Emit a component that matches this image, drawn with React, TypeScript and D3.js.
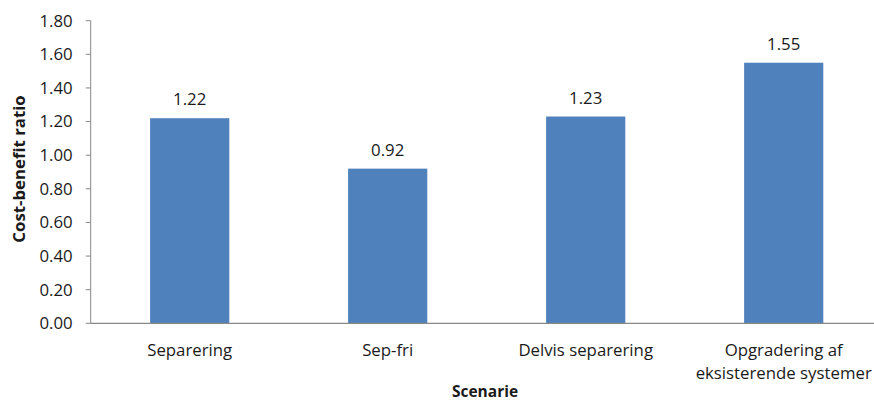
import React from "react";
import * as d3 from "d3";

const categories: string[][] = [
  ["Separering"],
  ["Sep-fri"],
  ["Delvis separering"],
  ["Opgradering af", "eksisterende systemer"],
];
const values: number[] = [1.22, 0.92, 1.23, 1.55];
const yTicks: number[] = [0, 0.2, 0.4, 0.6, 0.8, 1.0, 1.2, 1.4, 1.6, 1.8];
const yTitle = "Cost-benefit ratio";
const xTitle = "Scenarie";

const W = 874;
const H = 402;
const left = 90.7;
const top = 20.7;
const bottom = 323.3;
const bandW = 198;
const font = "'Open Sans', 'Noto Sans', sans-serif";
const textColor = "#1a1a1a";
const axisColor = "#888888";
const barColor = "#4F81BD";
const fs = 16.8;

export default function App() {
  const x = d3
    .scaleBand<number>()
    .domain(d3.range(categories.length))
    .range([left, left + bandW * categories.length])
    .paddingInner(0.6)
    .paddingOuter(0.3);
  const y = d3.scaleLinear().domain([0, 1.8]).range([bottom, top]);

  return (
    <svg
      width={W}
      height={H}
      style={{ position: "absolute", left: 0, top: 0, background: "#fff" }}
      fontFamily={font}
    >
      {/* y axis */}
      <line x1={left} x2={left} y1={top} y2={bottom} stroke={axisColor} strokeWidth={1} />
      {yTicks.map((t) => (
        <g key={t}>
          <line x1={left - 5} x2={left} y1={y(t)} y2={y(t)} stroke={axisColor} strokeWidth={1} />
          <text
            x={left - 18}
            y={y(t)}
            dy="0.35em"
            textAnchor="end"
            fontSize={fs}
            fill={textColor}
          >
            {t.toFixed(2)}
          </text>
        </g>
      ))}
      {/* bars */}
      {values.map((v, i) => (
        <g key={i}>
          <rect
            x={x(i)!}
            y={y(v)}
            width={x.bandwidth()}
            height={bottom - y(v)}
            fill={barColor}
          />
          <text
            x={x(i)! + x.bandwidth() / 2}
            y={y(v) - 13}
            textAnchor="middle"
            fontSize={fs}
            fill={textColor}
          >
            {v.toFixed(2)}
          </text>
        </g>
      ))}
      {/* x axis */}
      <line x1={left} x2={W} y1={bottom} y2={bottom} stroke={axisColor} strokeWidth={1.3} />
      {categories.map((lines, i) => (
        <text
          key={i}
          x={x(i)! + x.bandwidth() / 2}
          y={356}
          textAnchor="middle"
          fontSize={fs}
          fill={textColor}
        >
          {lines.map((l, j) => (
            <tspan key={j} x={x(i)! + x.bandwidth() / 2} dy={j === 0 ? 0 : 23}>
              {l}
            </tspan>
          ))}
        </text>
      ))}
      {/* titles */}
      <text
        x={485}
        y={397}
        textAnchor="middle"
        fontSize={15.5}
        fontWeight="bold"
        fill={textColor}
      >
        {xTitle}
      </text>
      <text
        transform={`translate(25, ${(top + bottom) / 2 - 3}) rotate(-90)`}
        textAnchor="middle"
        fontSize={fs}
        fontWeight="bold"
        fill={textColor}
      >
        {yTitle}
      </text>
    </svg>
  );
}
